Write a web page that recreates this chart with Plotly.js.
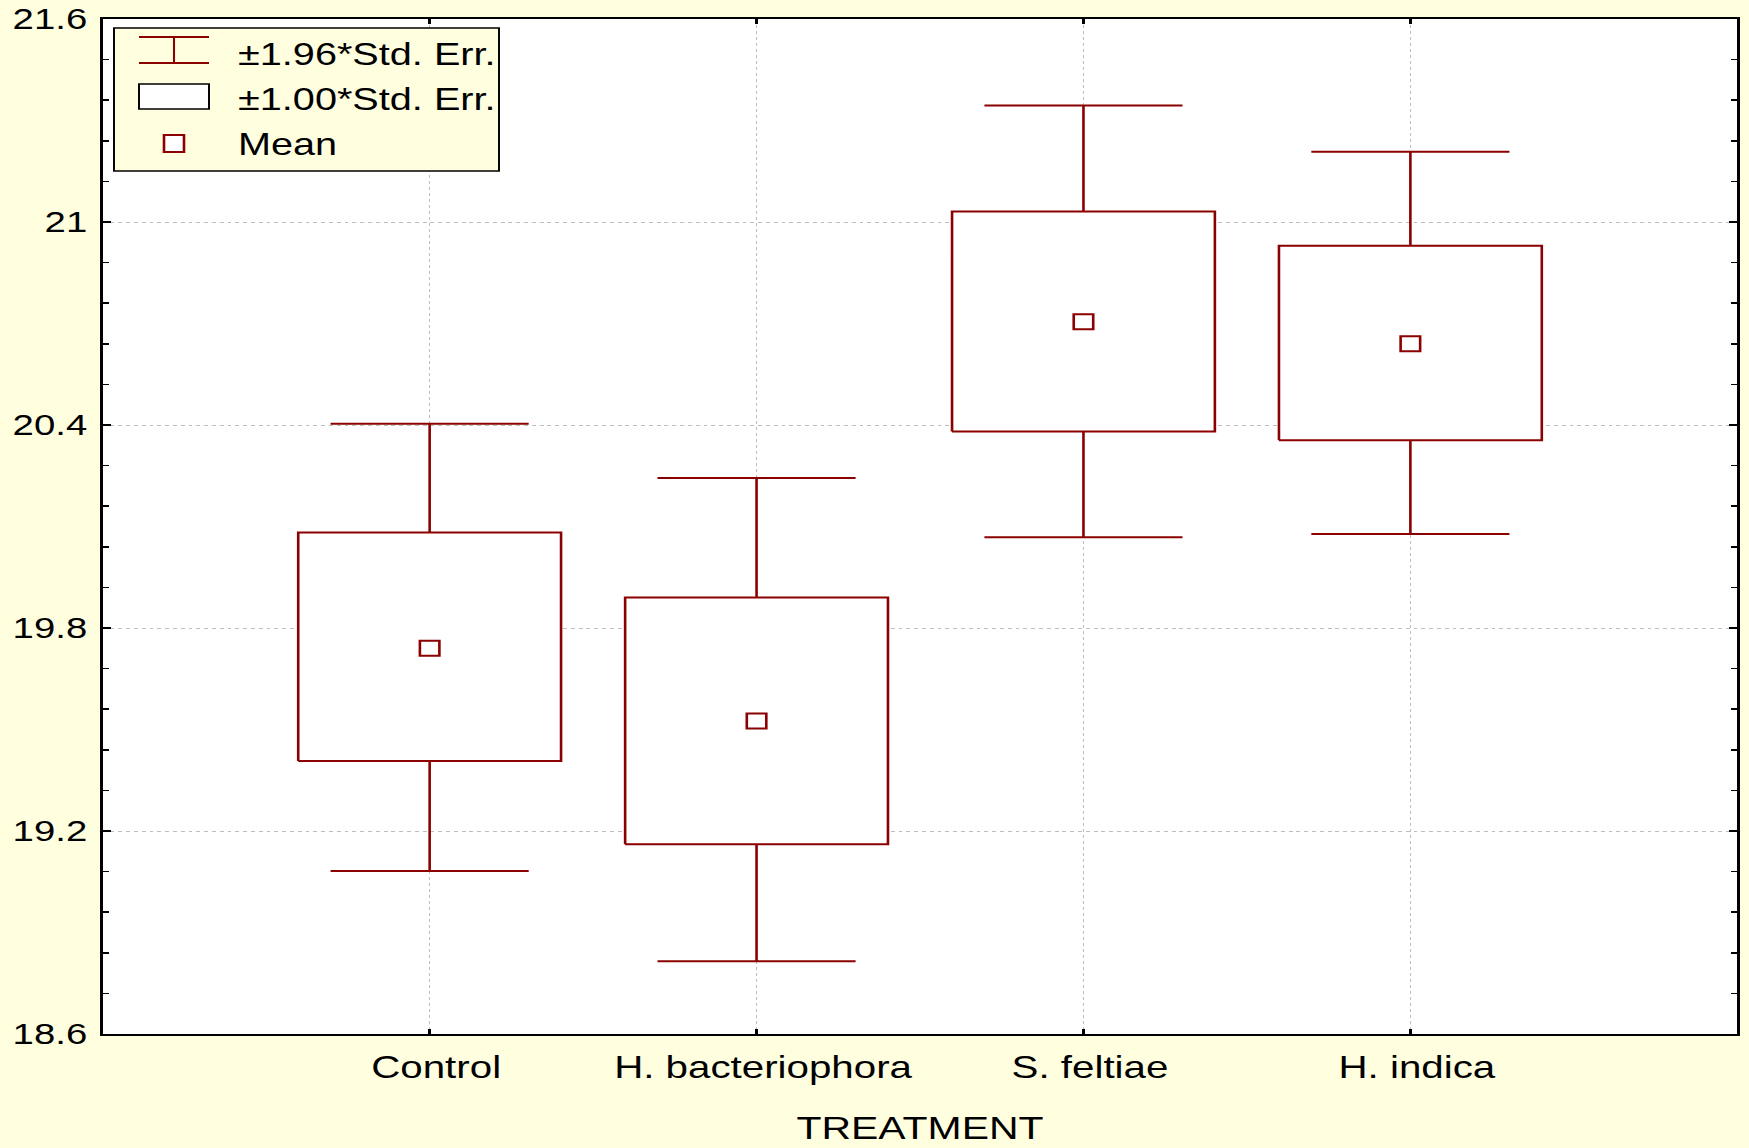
<!DOCTYPE html>
<html><head><meta charset="utf-8">
<script src="https://cdn.plot.ly/plotly-3.0.1.min.js"></script>
<style>
html,body{margin:0;padding:0;background:#FFFFE0;overflow:hidden;width:1749px;height:1148px;}
#chart{width:1345px;height:1148px;transform:scaleX(1.30037);transform-origin:0 0;}
</style></head><body><div id="chart"></div>
<script>
// ---- data ----
const categories = ['Control', 'H. bacteriophora', 'S. feltiae', 'H. indica'];
const means   = [19.740, 19.525, 20.705, 20.640];
const seLow   = [19.407, 19.161, 20.381, 20.355];   // mean - 1.00*SE
const seHigh  = [20.082, 19.890, 21.031, 20.930];   // mean + 1.00*SE
const ciLow   = [19.082, 18.815, 20.068, 20.078];   // mean - 1.96*SE
const ciHigh  = [20.404, 20.243, 21.344, 21.208];   // mean + 1.96*SE
const yTickVals = [18.6, 19.2, 19.8, 20.4, 21.0, 21.6];
const xAxisTitle = 'TREATMENT';
const legendLabels = ['\u00B11.96*Std. Err.', '\u00B11.00*Std. Err.', 'Mean'];

// ---- styling ----
const RED = '#8B0000';
const BG = '#FFFFE0';
const FONT = 'Liberation Sans, Arial, sans-serif';
const BOX_HALF = 0.402, CAP_HALF = 0.303;
const S = 1.30037, W = 1345, H = 1148, L = 79, R = 9, T = 19, B = 114;
const PW = W - L - R, PH = H - T - B;
const fx = xr => (xr / S - L) / PW;
const fy = yr => (H - B - yr) / PH;

const xPos = categories.map((_, i) => i);

// boxes (±1 SE)
const bx = [], by = [];
xPos.forEach((x, i) => {
  bx.push(x - BOX_HALF, x + BOX_HALF, x + BOX_HALF, x - BOX_HALF, x - BOX_HALF, null);
  by.push(seLow[i], seLow[i], seHigh[i], seHigh[i], seLow[i], null);
});
// whiskers (±1.96 SE)
const wx = [], wy = [];
xPos.forEach((x, i) => {
  wx.push(x, x, null, x - CAP_HALF, x + CAP_HALF, null, x, x, null, x - CAP_HALF, x + CAP_HALF, null);
  wy.push(seHigh[i], ciHigh[i], null, ciHigh[i], ciHigh[i], null, seLow[i], ciLow[i], null, ciLow[i], ciLow[i], null);
});

const traces = [
  {type: 'scatter', mode: 'lines', x: wx, y: wy, line: {color: RED, width: 2}, hoverinfo: 'skip', showlegend: false},
  {type: 'scatter', mode: 'lines', x: bx, y: by, fill: 'toself', fillcolor: '#FFFFFF',
   line: {color: RED, width: 2}, hoverinfo: 'skip', showlegend: false},
  {type: 'scatter', mode: 'markers', x: xPos, y: means, name: 'Mean',
   marker: {symbol: 'square', size: 15, color: '#FFFFFF', line: {color: RED, width: 2}}, showlegend: false}
];

// manual legend (layout only)
const shapes = [
  {type: 'rect', xref: 'paper', yref: 'paper', x0: fx(114), x1: fx(499), y0: fy(171), y1: fy(28),
   fillcolor: BG, line: {color: '#000', width: 1.5}},
  {type: 'line', xref: 'paper', yref: 'paper', x0: fx(139), x1: fx(209), y0: fy(37), y1: fy(37), line: {color: RED, width: 2}},
  {type: 'line', xref: 'paper', yref: 'paper', x0: fx(139), x1: fx(209), y0: fy(63), y1: fy(63), line: {color: RED, width: 2}},
  {type: 'line', xref: 'paper', yref: 'paper', x0: fx(174), x1: fx(174), y0: fy(37), y1: fy(63), line: {color: RED, width: 1.6}},
  {type: 'rect', xref: 'paper', yref: 'paper', x0: fx(139), x1: fx(209), y0: fy(109), y1: fy(84),
   fillcolor: '#FFFFFF', line: {color: '#000', width: 1.5}},
  {type: 'rect', xref: 'paper', yref: 'paper', x0: fx(164), x1: fx(184), y0: fy(152), y1: fy(135),
   fillcolor: '#FFFFFF', line: {color: RED, width: 2}}
];
const rowY = [54, 99, 144];
const annotations = legendLabels.map((t, i) => ({
  xref: 'paper', yref: 'paper', x: fx(236), y: fy(rowY[i]), xanchor: 'left', yanchor: 'middle',
  text: t, showarrow: false, font: {family: FONT, size: 30.5, color: '#000'}
}));

const layout = {
  width: W, height: H,
  paper_bgcolor: BG, plot_bgcolor: '#FFFFFF',
  margin: {l: L, r: R, t: T, b: B, pad: 0},
  showlegend: false,
  xaxis: {
    type: 'linear', range: [-1, 4], tickvals: xPos, ticktext: categories,
    showgrid: true, gridcolor: '#BDBDBD', gridwidth: 1, griddash: '3px,3px', zeroline: false,
    showline: true, linecolor: '#000', linewidth: 2, mirror: 'ticks',
    ticks: 'inside', ticklen: 5, tickwidth: 2, tickcolor: '#000',
    tickfont: {family: FONT, size: 31, color: '#000'}, ticklabelstandoff: 5, ticklabelshift: 5,
    title: {text: xAxisTitle, font: {family: FONT, size: 31.5, color: '#000'}, standoff: 33},
    automargin: false, fixedrange: true
  },
  yaxis: {
    range: [18.6, 21.6], tickvals: yTickVals, ticktext: yTickVals.map(v => String(+v.toFixed(1))),
    showgrid: true, gridcolor: '#BDBDBD', gridwidth: 1, griddash: '3px,3px', zeroline: false,
    showline: true, linecolor: '#000', linewidth: 2, mirror: 'allticks',
    ticks: 'inside', ticklen: 6, tickwidth: 2, tickcolor: '#000',
    minor: {dtick: 0.12, tick0: 18.6, ticks: 'inside', ticklen: 5, tickwidth: 1.5, tickcolor: '#000', showgrid: false},
    tickfont: {family: FONT, size: 29.5, color: '#000'}, ticklabelstandoff: 4,
    automargin: false, fixedrange: true
  },
  shapes: shapes,
  annotations: annotations
};

Plotly.newPlot('chart', traces, layout, {staticPlot: true, displayModeBar: false});
</script></body></html>
